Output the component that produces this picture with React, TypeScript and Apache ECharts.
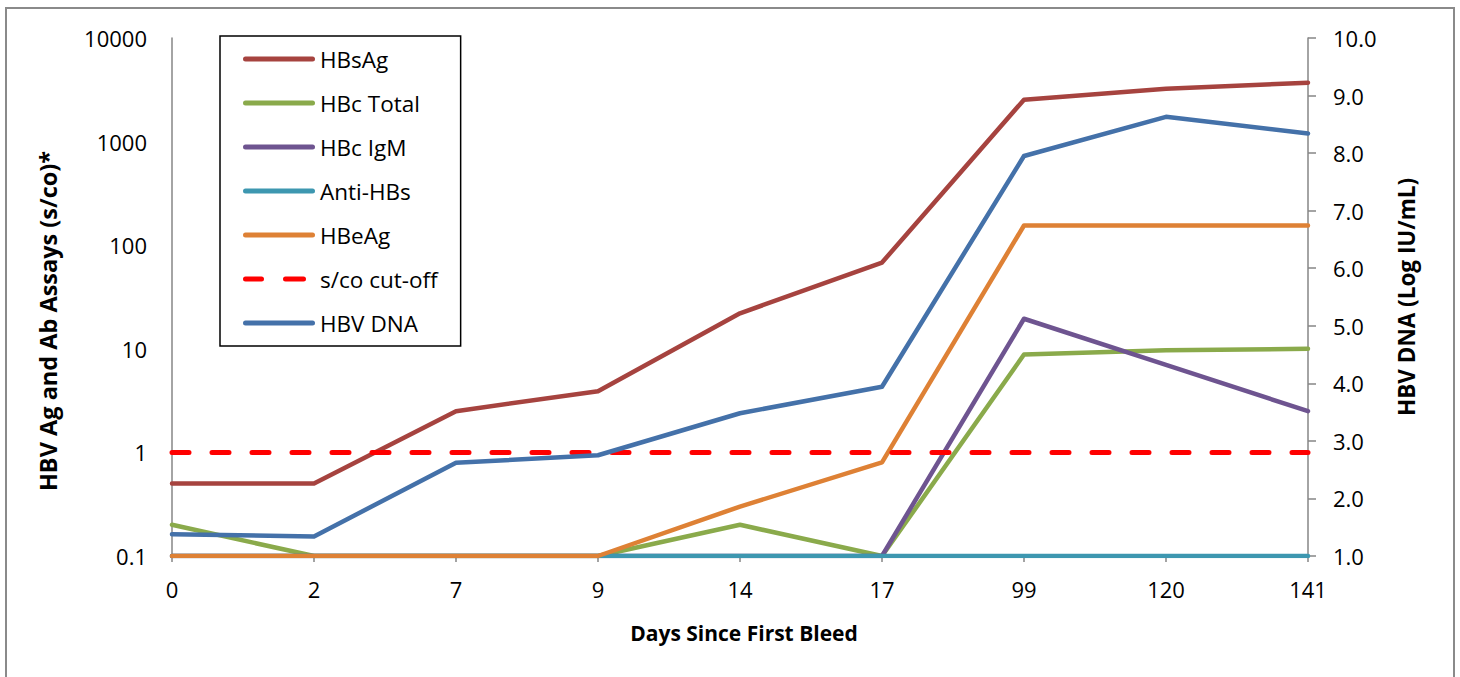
import React, { useEffect, useRef } from "react";
import * as echarts from "echarts";

const days = ["0", "2", "7", "9", "14", "17", "99", "120", "141"];
const hbsAg = [0.5, 0.5, 2.5, 3.9, 22, 68, 2540, 3240, 3700];
const hbcTotal = [0.2, 0.1, 0.1, 0.1, 0.2, 0.1, 8.8, 9.7, 10];
const hbcIgM = [0.1, 0.1, 0.1, 0.1, 0.1, 0.1, 19.5, 7, 2.5];
const antiHBs = [0.1, 0.1, 0.1, 0.1, 0.1, 0.1, 0.1, 0.1, 0.1];
const hbeAg = [0.1, 0.1, 0.1, 0.1, 0.3, 0.8, 155, 155, 155];
const cutoff = [1, 1, 1, 1, 1, 1, 1, 1, 1];
const hbvDna = [1.38, 1.34, 2.62, 2.75, 3.48, 3.94, 7.95, 8.63, 8.34];

const FONT = "'Open Sans', Lato, sans-serif";
const SOLID_ICON = "path://M2.5,0H69.5A2.5,2.5,0,0,1,69.5,5H2.5A2.5,2.5,0,0,1,2.5,0Z";
const DASH_ICON =
  "path://M2.5,0H18.5A2.5,2.5,0,0,1,18.5,5H2.5A2.5,2.5,0,0,1,2.5,0Z M42.5,0H60.5A2.5,2.5,0,0,1,60.5,5H42.5A2.5,2.5,0,0,1,42.5,0Z M71.9,2.4H72V2.6H71.9Z";

export default function App() {
  const ref = useRef<HTMLDivElement>(null);
  useEffect(() => {
    document.body.style.margin = "0";
    const chart = echarts.init(ref.current!, null, { renderer: "svg" });
    const line = (name: string, data: number[], color: string, extra: any = {}) => ({
      name,
      type: "line",
      data,
      symbol: "none",
      lineStyle: { color, width: 4.5, cap: "round", join: "round" },
      itemStyle: { color },
      ...extra,
    });
    const legendNames = ["HBsAg", "HBc Total", "HBc IgM", "Anti-HBs", "HBeAg", "s/co cut-off", "HBV DNA"];
    chart.setOption({
      animation: false,
      textStyle: { fontFamily: FONT },
      grid: { left: 172, right: 152, top: 38, bottom: 121 },
      legend: {
        orient: "vertical",
        left: 220,
        top: 36,
        padding: [11, 23, 11, 23],
        borderColor: "#000",
        borderWidth: 1.5,
        itemWidth: 72,
        itemHeight: 5,
        itemGap: 20,
        textStyle: { fontSize: 22.5, lineHeight: 24, color: "#000", fontFamily: FONT, padding: [0, 0, 0, 0] },
        data: legendNames.map((n) => ({ name: n, icon: n === "s/co cut-off" ? DASH_ICON : SOLID_ICON })),
      },
      xAxis: {
        type: "category",
        data: days,
        boundaryGap: false,
        axisLine: { lineStyle: { color: "#868686", width: 1.5 } },
        axisTick: { show: true, length: 6, inside: false, lineStyle: { color: "#868686", width: 1.5 } },
        axisLabel: { fontSize: 22, color: "#000", margin: 22, fontFamily: FONT },
      },
      yAxis: [
        {
          type: "log",
          logBase: 10,
          min: 0.1,
          max: 10000,
          axisLine: { show: true, lineStyle: { color: "#868686", width: 1.5 } },
          axisTick: { show: false },
          splitLine: { show: false },
          axisLabel: {
            fontSize: 22,
            color: "#000",
            margin: 25,
            fontFamily: FONT,
            formatter: (v: number) => (v < 1 ? String(Math.round(v * 10) / 10) : String(Math.round(v))),
          },
        },
        {
          type: "value",
          min: 1,
          max: 10,
          interval: 1,
          position: "right",
          axisLine: { show: true, lineStyle: { color: "#868686", width: 1.5 } },
          axisTick: { show: true, length: 8, lineStyle: { color: "#868686", width: 1.5 } },
          splitLine: { show: false },
          axisLabel: {
            fontSize: 22,
            color: "#000",
            margin: 25,
            fontFamily: FONT,
            formatter: (v: number) => v.toFixed(1),
          },
        },
      ],
      series: [
        line("HBsAg", hbsAg, "#A6433F"),
        line("HBc Total", hbcTotal, "#8AAA4B"),
        line("HBc IgM", hbcIgM, "#6E5490"),
        line("Anti-HBs", antiHBs, "#3D97B0"),
        line("HBeAg", hbeAg, "#DE8135"),
        {
          name: "s/co cut-off",
          type: "line",
          data: cutoff,
          symbol: "none",
          lineStyle: { color: "#FF0000", width: 5, type: [17, 23], cap: "round" },
          itemStyle: { color: "#FF0000" },
        },
        line("HBV DNA", hbvDna, "#4471A9", { yAxisIndex: 1 }),
      ],
      graphic: [
        {
          type: "rect",
          shape: { x: 6, y: 8, width: 1448, height: 690 },
          style: { fill: "none", stroke: "#8a8a8a", lineWidth: 2 },
          silent: true,
        },
        {
          type: "text",
          x: 48,
          y: 321,
          rotation: Math.PI / 2,
          style: {
            text: "HBV Ag and Ab Assays (s/co)*",
            fontSize: 23.5,
            fontWeight: "bold",
            fontFamily: FONT,
            fill: "#000",
            align: "center",
            verticalAlign: "middle",
          },
        },
        {
          type: "text",
          x: 1406,
          y: 297,
          rotation: Math.PI / 2,
          style: {
            text: "HBV DNA (Log IU/mL)",
            fontSize: 22.5,
            fontWeight: "bold",
            fontFamily: FONT,
            fill: "#000",
            align: "center",
            verticalAlign: "middle",
          },
        },
        {
          type: "text",
          x: 744,
          y: 633,
          style: {
            text: "Days Since First Bleed",
            fontSize: 21,
            fontWeight: "bold",
            fontFamily: FONT,
            fill: "#000",
            align: "center",
            verticalAlign: "middle",
          },
        },
      ],
    });
    return () => chart.dispose();
  }, []);
  return <div ref={ref} style={{ width: 1460, height: 677 }} />;
}
